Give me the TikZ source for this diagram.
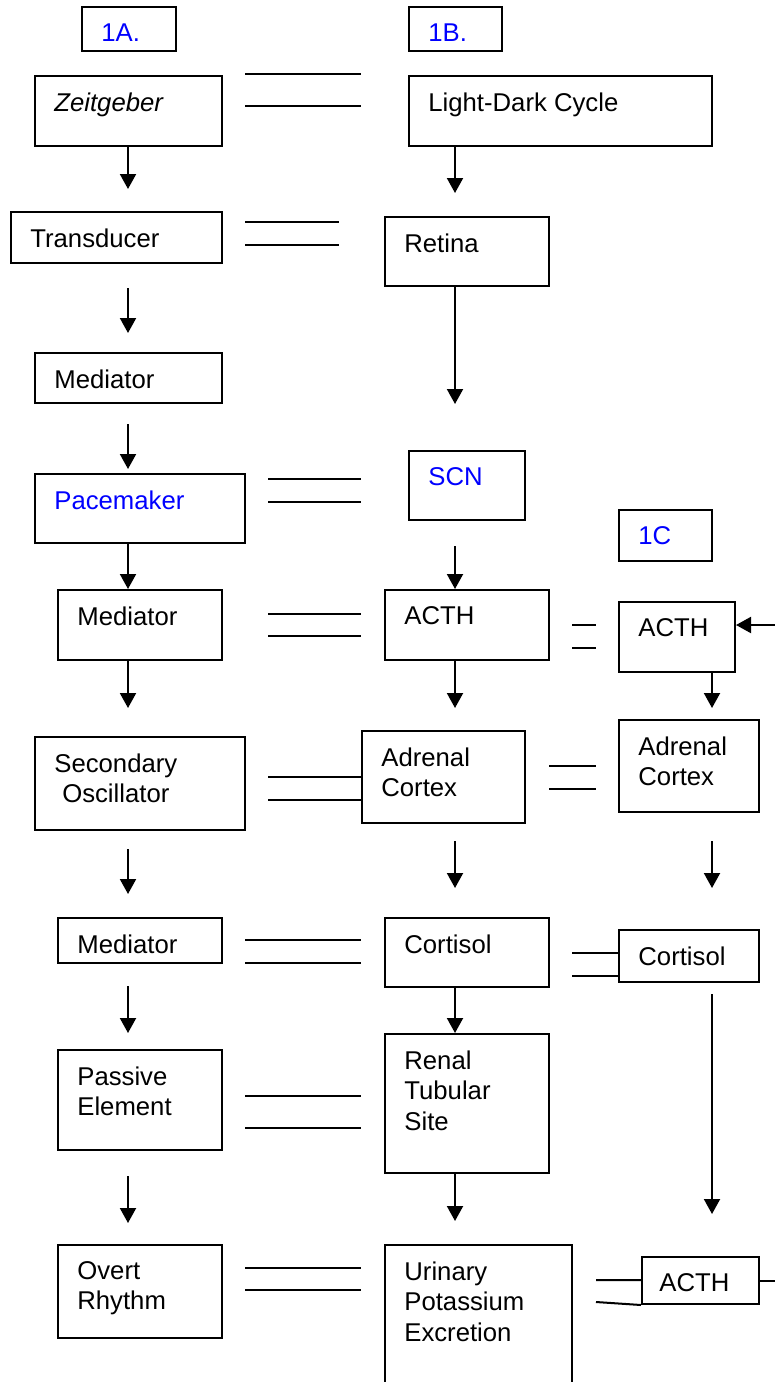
\documentclass[tikz,border=0pt]{standalone}
\usepackage{fontspec}
\setmainfont{Liberation Sans}
\usetikzlibrary{arrows.meta,fit,positioning}

\tikzset{
  box/.style={draw,line width=1pt,inner sep=0pt},
  txt/.style={anchor=north west,inner sep=0pt,xshift=10pt,yshift=-8.5pt,
    align=left,font=\fontsize{12.85}{15.3}\selectfont},
  tag/.style={txt,text=blue},
  arr/.style={line width=1pt,-{Triangle[length=7.5pt,width=8pt]}},
  eqln/.style={line width=1pt}
}

\begin{document}
\begin{tikzpicture}[x=0.5pt,y=-0.5pt]
\path[use as bounding box] (0,0) rectangle (775,1382);
\clip (0,0) rectangle (775,1382);

% arrow columns
\coordinate (cA) at (128,0);
\coordinate (cB) at (455,0);
\coordinate (cC) at (712,0);
\coordinate (edge) at (775,625);

% column 1A
\node[box,fit={(82,7) (176,51)}] (hA) {};
\node[tag] (hA-t) at (hA.north west) {1A.};
\node[box,fit={(35,76) (222,146)}] (zeit) {};
\node[txt] (zeit-t) at (zeit.north west) {\textit{Zeitgeber}};
\node[box,fit={(11,212) (222,263)}] (trans) {};
\node[txt] (trans-t) at (trans.north west) {Transducer};
\node[box,fit={(35,353) (222,403)}] (med1) {};
\node[txt] (med1-t) at (med1.north west) {Mediator};
\node[box,fit={(35,474) (245,543)}] (pace) {};
\node[tag] (pace-t) at (pace.north west) {Pacemaker};
\node[box,fit={(58,590) (222,660)}] (med2) {};
\node[txt] (med2-t) at (med2.north west) {Mediator};
\node[box,fit={(35,737) (245,830)}] (osc) {};
\node[txt,align=center] (osc-t) at (osc.north west) {Secondary\\Oscillator};
\node[box,fit={(58,918) (222,963)}] (med3) {};
\node[txt] (med3-t) at (med3.north west) {Mediator};
\node[box,fit={(58,1050) (222,1150)}] (pass) {};
\node[txt] (pass-t) at (pass.north west) {Passive\\Element};
\node[box,fit={(58,1245) (222,1338)}] (overt) {};
\node[txt] (overt-t) at (overt.north west) {Overt\\Rhythm};

% column 1B
\node[box,fit={(409,7) (502,51)}] (hB) {};
\node[tag] (hB-t) at (hB.north west) {1B.};
\node[box,fit={(409,76) (712,146)}] (ldc) {};
\node[txt] (ldc-t) at (ldc.north west) {Light-Dark Cycle};
\node[box,fit={(385,217) (549,286)}] (ret) {};
\node[txt] (ret-t) at (ret.north west) {Retina};
\node[box,fit={(409,451) (525,520)}] (scn) {};
\node[tag] (scn-t) at (scn.north west) {SCN};
\node[box,fit={(385,590) (549,660)}] (acthB) {};
\node[txt] (acthB-t) at (acthB.north west) {ACTH};
\node[box,fit={(362,731) (525,823)}] (adrB) {};
\node[txt] (adrB-t) at (adrB.north west) {Adrenal\\Cortex};
\node[box,fit={(385,918) (549,987)}] (cortB) {};
\node[txt] (cortB-t) at (cortB.north west) {Cortisol};
\node[box,fit={(385,1034) (549,1173)}] (renal) {};
\node[txt] (renal-t) at (renal.north west) {Renal\\Tubular\\Site};
\node[box,fit={(385,1245) (572,1400)}] (urin) {};
\node[txt] (urin-t) at (urin.north west) {Urinary\\Potassium\\Excretion};

% column 1C
\node[box,fit={(619,510) (712,561)}] (hC) {};
\node[tag] (hC-t) at (hC.north west) {1C};
\node[box,fit={(619,602) (735,672)}] (acthC) {};
\node[txt] (acthC-t) at (acthC.north west) {ACTH};
\node[box,fit={(619,720) (759,812)}] (adrC) {};
\node[txt] (adrC-t) at (adrC.north west) {Adrenal\\Cortex};
\node[box,fit={(619,930) (759,982)}] (cortC) {};
\node[txt] (cortC-t) at (cortC.north west) {Cortisol};
\node[box,fit={(642,1257) (759,1304)}] (acthD) {};
\node[txt,xshift=-1pt] (acthD-t) at (acthD.north west) {ACTH};

% arrows 1A
\draw[arr] (zeit.south -| cA) -- ++(0,42);
\draw[arr] ([yshift=-12pt]trans.south -| cA) -- ++(0,45);
\draw[arr] ([yshift=-10pt]med1.south -| cA) -- ++(0,45);
\draw[arr] (pace.south -| cA) -- (med2.north -| cA);
\draw[arr] (med2.south -| cA) -- ++(0,47);
\draw[arr] ([yshift=-9pt]osc.south -| cA) -- ++(0,45);
\draw[arr] ([yshift=-11pt]med3.south -| cA) -- ++(0,47);
\draw[arr] ([yshift=-12.5pt]pass.south -| cA) -- ++(0,47);

% arrows 1B
\draw[arr] (ldc.south -| cB) -- ++(0,46);
\draw[arr] (ret.south -| cB) -- ++(0,117);
\draw[arr] ([yshift=-12.5pt]scn.south -| cB) -- (acthB.north -| cB);
\draw[arr] (acthB.south -| cB) -- ++(0,47);
\draw[arr] ([yshift=-8.5pt]adrB.south -| cB) -- ++(0,47);
\draw[arr] (cortB.south -| cB) -- (renal.north -| cB);
\draw[arr] (renal.south -| cB) -- ++(0,47);

% arrows 1C
\draw[arr] (edge) -- (edge -| acthC.east);
\draw[arr] (acthC.south -| cC) -- ++(0,35);
\draw[arr] ([yshift=-14pt]adrC.south -| cC) -- ++(0,47);
\draw[arr] ([yshift=-5.5pt]cortC.south -| cC) -- ++(0,220);
\draw[eqln] (acthD.east) -- (acthD.east -| edge);

% equivalence marks
\foreach \xa/\xb/\ya/\yb in {245/361/74/106, 245/339/222/245, 268/361/479/502,
    268/361/614/636, 268/361/777/800, 245/361/940/963, 245/361/1096/1128,
    245/361/1268/1290, 572/596/625/648, 549/596/766/789}
  \draw[eqln] (\xa,\ya) -- (\xb,\ya) (\xa,\yb) -- (\xb,\yb);
\draw[eqln] (572,953) -- (cortC.west |- 0,953) (572,976) -- (cortC.west |- 0,976);
\draw[eqln] (596,1280) -- (acthD.west |- 0,1280) (596,1302) -- (acthD.south west);
\end{tikzpicture}
\end{document}
